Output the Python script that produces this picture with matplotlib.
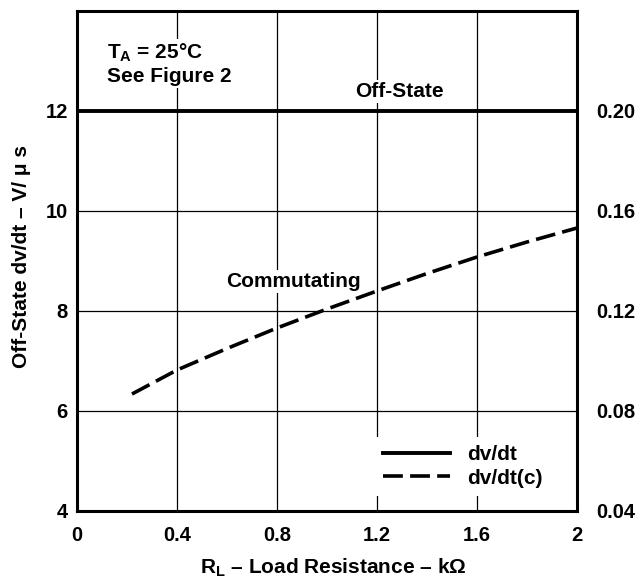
import matplotlib
matplotlib.use('Agg')
import matplotlib.pyplot as plt

plt.rcParams['font.family'] = ['Liberation Sans', 'DejaVu Sans']
plt.rcParams['font.weight'] = 'bold'
plt.rcParams['axes.labelweight'] = 'bold'
plt.rcParams['mathtext.fontset'] = 'custom'
plt.rcParams['mathtext.rm'] = 'Liberation Sans:bold'
plt.rcParams['mathtext.bf'] = 'Liberation Sans:bold'

# data
rl_off = [0.0, 2.0]
dvdt_off = [12.0, 12.0]
rl_comm = [0.22, 0.4, 0.6, 0.8, 1.0, 1.2, 1.4, 1.6, 1.8, 2.0]
dvdt_comm = [6.34, 6.82, 7.25, 7.66, 8.04, 8.40, 8.75, 9.08, 9.38, 9.66]

x_ticks = [0, 0.4, 0.8, 1.2, 1.6, 2]
x_labels = ['0', '0.4', '0.8', '1.2', '1.6', '2']
y_ticks = [4, 6, 8, 10, 12]
y2_ticks = [0.04, 0.08, 0.12, 0.16, 0.20]
y2_labels = ['0.04', '0.08', '0.12', '0.16', '0.20']

fig = plt.figure(figsize=(6.39, 5.79), dpi=100)
ax = fig.add_axes([77 / 639, 68 / 579, 500 / 639, 500 / 579])

ax.plot(rl_off, dvdt_off, color='black', lw=2.8, label='dv/dt', zorder=3)
ax.plot(rl_comm, dvdt_comm, color='black', lw=2.6, dashes=(5.5, 2.0), label='dv/dt(c)', zorder=3)

ax.set_xlim(0, 2)
ax.set_ylim(4, 14)
ax.set_xticks(x_ticks)
ax.set_xticklabels(x_labels)
ax.set_yticks(y_ticks)
ax.tick_params(length=0, labelsize=14.5)
ax.tick_params(axis='x', pad=11)
ax.tick_params(axis='y', pad=6.5)
ax.grid(True, color='black', lw=0.9)
ax.set_axisbelow(True)
for s in ax.spines.values():
    s.set_linewidth(2.2)

ax2 = ax.twinx()
ax2.set_ylim(0.04, 0.24)
ax2.set_yticks(y2_ticks)
ax2.set_yticklabels(y2_labels)
ax2.tick_params(length=0, labelsize=14.5, pad=14)
for s in ax2.spines.values():
    s.set_visible(False)

bbox = dict(facecolor='white', edgecolor='none', pad=1.5)
ax.text(0.12, 13.06, r'T$_{\mathrm{A}}$ = 25°C', fontsize=15, ha='left', va='baseline', bbox=bbox)
ax.text(0.12, 12.58, 'See Figure 2', fontsize=15, ha='left', va='baseline', bbox=bbox)
ax.text(1.288, 12.28, 'Off-State', fontsize=15, ha='center', va='baseline', bbox=bbox)
ax.text(0.596, 8.48, 'Commutating', fontsize=15, ha='left', va='baseline', bbox=bbox)

leg = ax.legend(loc='upper left', bbox_to_anchor=(0.596, 0.148), frameon=True, fontsize=15,
                handlelength=3.2, handletextpad=0.8, borderaxespad=0, borderpad=0.4,
                labelspacing=0.2)
leg.get_frame().set_edgecolor('none')
leg.get_frame().set_facecolor('white')
leg.get_frame().set_alpha(1)
leg.get_frame().set_boxstyle('square', pad=0)

ax.set_ylabel('Off-State dv/dt – V/ μ s', fontsize=15, fontweight='bold')
ax.yaxis.set_label_coords(-0.11, 0.51)
ax.yaxis.label.set_va('center')
ax.set_xlabel(r'R$_{\mathrm{L}}$ – Load Resistance – kΩ', fontsize=15, fontweight='bold')
ax.xaxis.set_label_coords(0.512, -0.125)
ax.xaxis.label.set_va('baseline')

fig.savefig('out.png', dpi=100)
